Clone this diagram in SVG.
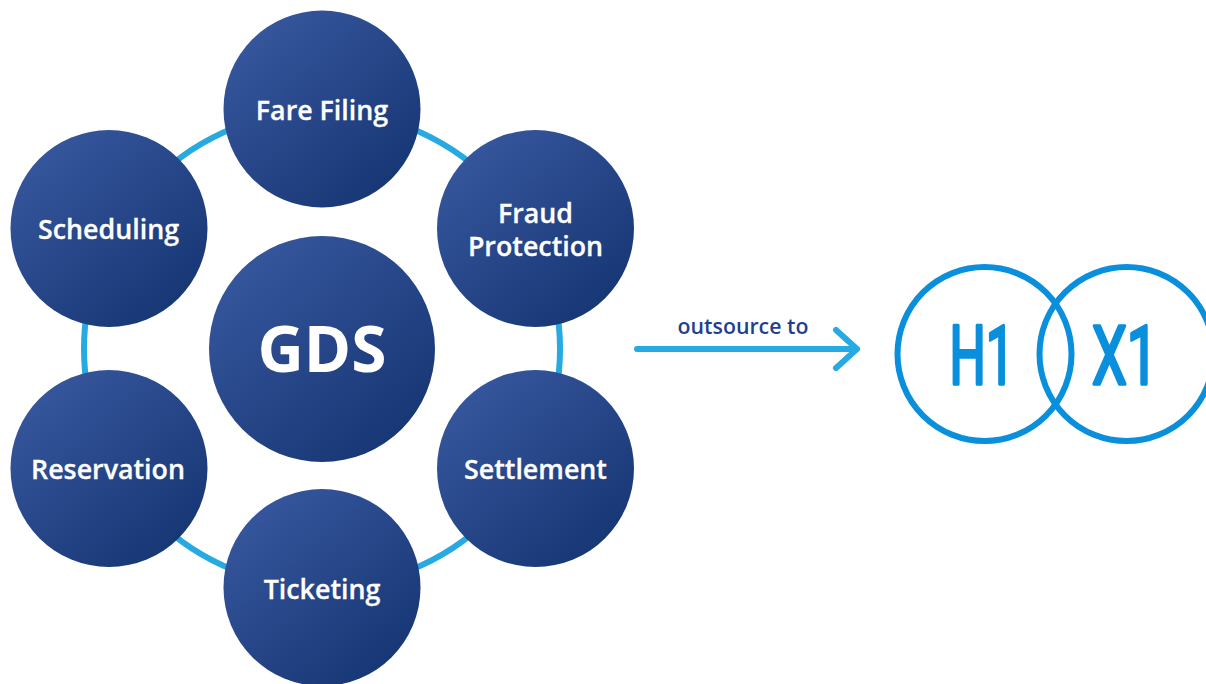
<svg xmlns="http://www.w3.org/2000/svg" width="1206" height="684" viewBox="0 0 1206 684">
<style>
.n{fill:url(#g)}
.t{font-family:"Open Sans","Noto Sans",sans-serif;font-weight:600;font-size:26.8px;fill:#fff;stroke:#fff;stroke-width:0.3;text-anchor:middle}
.c{fill:none;stroke:#27aae1;stroke-width:6;stroke-linecap:round;stroke-linejoin:round}
.l{fill:none;stroke:#0a8fdc;stroke-width:6}
.h{font-family:"Roboto","Open Sans",sans-serif;font-weight:400;font-size:82px;fill:#0a8fdc;stroke:#0a8fdc;stroke-width:3.500;stroke-linejoin:round;stroke-linecap:round;text-anchor:middle}
</style>
<defs>
<linearGradient id="g" x1="0.15" y1="0.1" x2="0.85" y2="0.9">
<stop offset="0" stop-color="#36569d"/>
<stop offset="1" stop-color="#173674"/>
</linearGradient>
</defs>
<rect width="1206" height="684" fill="#fff"/>
<g id="connectors">
<circle class="c" cx="322" cy="349" r="238"/>
<path class="c" d="M637 349H857M836 330L857 349L836 368"/>
</g>
<g id="gds"><circle class="n" cx="322" cy="349" r="113"/><text class="t" x="322" y="372" style="font-size:64px;font-weight:700;stroke:none">GDS</text></g>
<g id="fare-filing"><circle class="n" cx="322" cy="109" r="98.500"/><text class="t" x="322" y="119.500">Fare Filing</text></g>
<g id="fraud-protection"><circle class="n" cx="535.500" cy="228.500" r="98.500"/><text class="t"><tspan x="535.500" y="222.500">Fraud</tspan><tspan x="535.500" y="255.500">Protection</tspan></text></g>
<g id="settlement"><circle class="n" cx="535.500" cy="468.500" r="98.500"/><text class="t" x="535.500" y="478.500">Settlement</text></g>
<g id="ticketing"><circle class="n" cx="322" cy="587.500" r="98.500"/><text class="t" x="322" y="598.500">Ticketing</text></g>
<g id="reservation"><circle class="n" cx="109" cy="468.500" r="98.500"/><text class="t" x="108" y="478.500">Reservation</text></g>
<g id="scheduling"><circle class="n" cx="109" cy="228.500" r="98.500"/><text class="t" x="108.500" y="238.500">Scheduling</text></g>
<g id="outsource-label"><text x="743" y="334" text-anchor="middle" style="font-family:'Open Sans',sans-serif;font-weight:600;font-size:21.300px;fill:#1f3f8f">outsource to</text></g>
<g id="h1"><circle class="l" cx="984.500" cy="354" r="87"/><text class="h" x="982" y="384" textLength="65" lengthAdjust="spacingAndGlyphs">H1</text></g>
<g id="x1"><circle class="l" cx="1126.500" cy="354" r="87"/><text class="h" x="1125" y="384" textLength="66" lengthAdjust="spacingAndGlyphs">X1</text></g>
</svg>
